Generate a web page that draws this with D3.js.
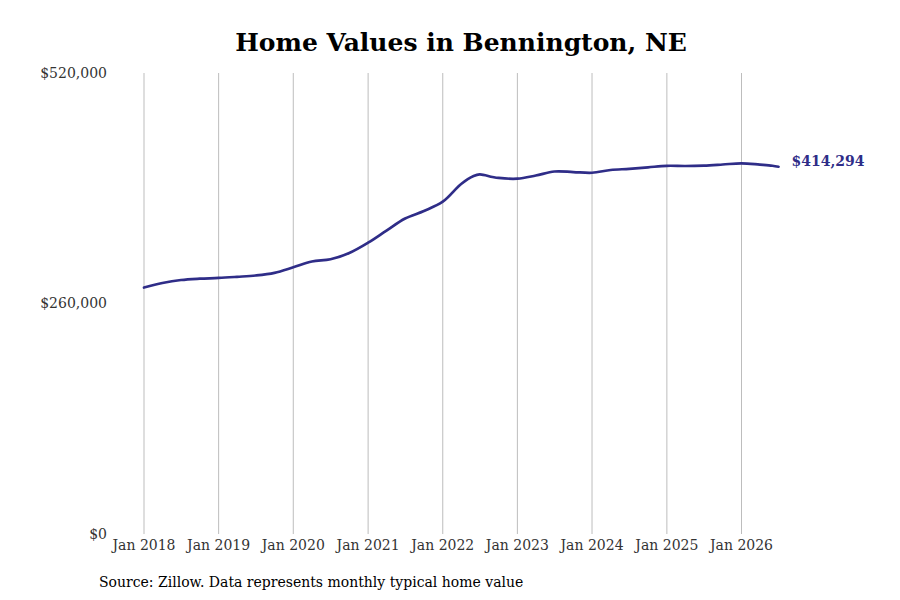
<!DOCTYPE html>
<html>
<head>
<meta charset="utf-8">
<script src="https://cdn.jsdelivr.net/npm/d3@7/dist/d3.min.js"></script>
<style>
  html, body { margin: 0; padding: 0; background: #fff; }
  svg { display: block; }
</style>
</head>
<body>
<svg id="chart" width="900" height="600"></svg>
<script>
const chartTitle = "Home Values in Bennington, NE";
const sourceText = "Source: Zillow. Data represents monthly typical home value";
const dates = ["2018-01","2018-04","2018-07","2018-10","2019-01","2019-04","2019-07","2019-10",
  "2020-01","2020-04","2020-07","2020-10","2021-01","2021-04","2021-07","2021-10",
  "2022-01","2022-04","2022-06","2022-07","2022-09","2022-10","2023-01","2023-04","2023-07","2023-10",
  "2024-01","2024-04","2024-07","2024-10","2025-01","2025-04","2025-07","2025-10",
  "2026-01","2026-04","2026-06","2026-07"];
const values = [278000,283100,286500,288000,288800,290100,291600,294600,
  300800,307400,309900,317000,328600,342300,355900,364300,
  374800,394800,403800,405700,402700,401600,400800,404400,408900,408300,
  407500,410600,411900,413600,415300,415100,415600,416800,
  418100,416600,415400,414294];
const yTicks = [0, 260000, 520000];
const xTickYears = [2018,2019,2020,2021,2022,2023,2024,2025,2026];

const parse = d3.timeParse("%Y-%m");
const data = dates.map((d,i) => ({date: parse(d), value: values[i]}));

const svg = d3.select("#chart");
const font = "'DejaVu Serif', serif";

const x = d3.scaleTime()
  .domain([new Date(2018,0,1), new Date(2026,0,1)])
  .range([144, 741.5]);
const y = d3.scaleLinear().domain([0, 520000]).range([534, 73]);

// vertical gridlines
svg.append("g").selectAll("line")
  .data(xTickYears)
  .join("line")
  .attr("x1", d => x(new Date(d,0,1))).attr("x2", d => x(new Date(d,0,1)))
  .attr("y1", y(520000)).attr("y2", y(0))
  .attr("stroke", "#bdbdbd").attr("stroke-width", 1);

// x labels
svg.append("g").selectAll("text")
  .data(xTickYears)
  .join("text")
  .attr("x", d => x(new Date(d,0,1)))
  .attr("y", 550)
  .attr("text-anchor", "middle")
  .attr("font-family", font).attr("font-size", 14).attr("fill", "#333")
  .text(d => d3.timeFormat("%b %Y")(new Date(d,0,1)));

// y labels
svg.append("g").selectAll("text")
  .data(yTicks)
  .join("text")
  .attr("x", 107)
  .attr("y", d => y(d))
  .attr("dy", "0.35em")
  .attr("text-anchor", "end")
  .attr("font-family", font).attr("font-size", 14).attr("fill", "#333")
  .text(d => "$" + d3.format(",")(d));

// line
const line = d3.line()
  .x(d => x(d.date)).y(d => y(d.value))
  .curve(d3.curveCatmullRom.alpha(0.5));
svg.append("path")
  .datum(data)
  .attr("d", line)
  .attr("fill", "none")
  .attr("stroke", "#2f2d88")
  .attr("stroke-width", 2.7)
  .attr("stroke-linecap", "round");

// end label
const last = data[data.length-1];
svg.append("text")
  .attr("x", x(last.date) + 13)
  .attr("y", y(last.value) - 6)
  .attr("dy", "0.35em")
  .attr("font-family", font).attr("font-size", 14).attr("font-weight", "bold")
  .attr("fill", "#2f2d88")
  .text("$" + d3.format(",")(last.value));

// title
svg.append("text")
  .attr("x", 461).attr("y", 51)
  .attr("text-anchor", "middle")
  .attr("font-family", font).attr("font-size", 25).attr("font-weight", "bold")
  .attr("fill", "#000")
  .text(chartTitle);

// source
svg.append("text")
  .attr("x", 99).attr("y", 587)
  .attr("font-family", font).attr("font-size", 14).attr("fill", "#000")
  .text(sourceText);
</script>
</body>
</html>
